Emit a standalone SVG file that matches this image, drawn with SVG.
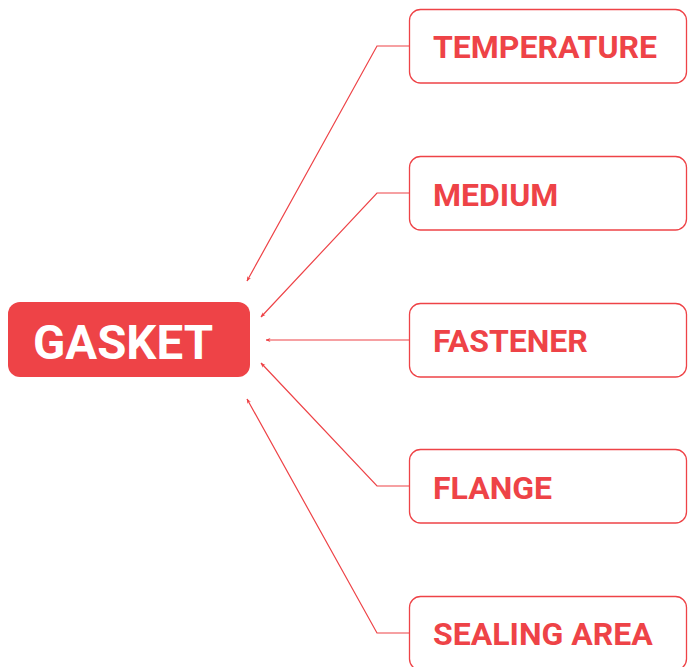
<svg xmlns="http://www.w3.org/2000/svg" width="688" height="667" viewBox="0 0 688 667">
<defs>
<style>
.conn{fill:none;stroke:#ee4347;stroke-width:1.2}
.box{fill:#fff;stroke:#ee4347;stroke-width:1.3}
.lbl{font-family:Roboto,"Liberation Sans",sans-serif;font-weight:bold;font-size:32px;fill:#ee4347}
.main{font-family:Roboto,"Liberation Sans",sans-serif;font-weight:bold;font-size:48px;fill:#fff}
</style>
<marker id="ah" viewBox="0 0 10 10" refX="9" refY="5" markerWidth="5" markerHeight="5" markerUnits="userSpaceOnUse" orient="auto">
<path d="M0,1 L10,5 L0,9 L3,5 Z" fill="#ee4347"/>
</marker>
</defs>
<rect width="688" height="667" fill="#fff"/>
<g id="connectors">
<polyline class="conn" points="409.5,46 377,46 247,281" marker-end="url(#ah)"/>
<polyline class="conn" points="409.5,193 377,193 261,317" marker-end="url(#ah)"/>
<polyline class="conn" points="409.5,340 266,340" marker-end="url(#ah)"/>
<polyline class="conn" points="409.5,486 377,486 261,363" marker-end="url(#ah)"/>
<polyline class="conn" points="409.5,633 377,633 247,399" marker-end="url(#ah)"/>
</g>
<g id="gasket">
<rect x="8" y="302" width="242" height="75" rx="12" fill="#ee4347"/>
<text class="main" x="33" y="359" textLength="180" lengthAdjust="spacingAndGlyphs">GASKET</text>
</g>
<g id="temperature">
<rect class="box" x="409.5" y="9.5" width="277" height="73.5" rx="11"/>
<text class="lbl" x="433" y="58">TEMPERATURE</text>
</g>
<g id="medium">
<rect class="box" x="409.5" y="156.5" width="277" height="73.5" rx="11"/>
<text class="lbl" x="433" y="206">MEDIUM</text>
</g>
<g id="fastener">
<rect class="box" x="409.5" y="303.5" width="277" height="73.5" rx="11"/>
<text class="lbl" x="433" y="352">FASTENER</text>
</g>
<g id="flange">
<rect class="box" x="409.5" y="449.5" width="277" height="73.5" rx="11"/>
<text class="lbl" x="433" y="499">FLANGE</text>
</g>
<g id="sealing-area">
<rect class="box" x="409.5" y="596.5" width="277" height="73.5" rx="11"/>
<text class="lbl" x="433" y="645">SEALING AREA</text>
</g>
</svg>
